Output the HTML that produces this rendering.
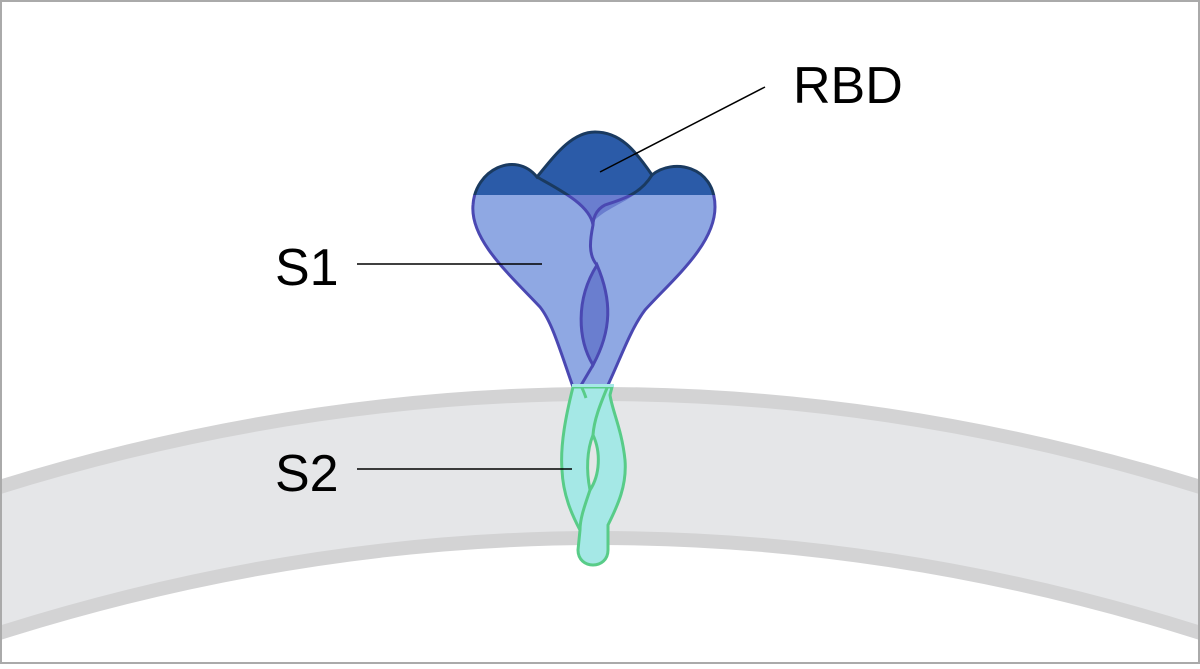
<!DOCTYPE html>
<html><head><style>html,body{margin:0;padding:0;background:#fff}</style></head><body>
<svg width="1200" height="664" viewBox="0 0 1200 664" xmlns="http://www.w3.org/2000/svg">
<rect x="0" y="0" width="1200" height="664" fill="#fff"/>
<defs>
<clipPath id="top"><rect x="0" y="0" width="1200" height="195"/></clipPath>
<clipPath id="bot"><rect x="0" y="195" width="1200" height="192"/></clipPath>
</defs>
<path d="M-10,490 Q600,298 1210,490 L1210,636 Q600,440 -10,636 Z" fill="#e5e6e8"/>
<path d="M-10,490 Q600,298 1210,490" fill="none" stroke="#d3d3d4" stroke-width="14"/>
<path d="M-10,636 Q600,440 1210,636" fill="none" stroke="#d3d3d4" stroke-width="14"/>
<g>
<path d="M573,387 C560,350 552,322 540,307 C510,275 470,240 473,205 C475,170 515,150 537,177 C555,155 572,132 595,132 C620,132 635,150 652,175 C672,158 715,165 715,207 C715,245 672,280 645,310 C630,330 620,360 607,387 Z" fill="#8fa8e3"/>
<path d="M573,387 C560,350 552,322 540,307 C510,275 470,240 473,205 C475,170 515,150 537,177 C555,155 572,132 595,132 C620,132 635,150 652,175 C672,158 715,165 715,207 C715,245 672,280 645,310 C630,330 620,360 607,387 Z" fill="#2b5ba8" clip-path="url(#top)"/>
<path d="M537,177 C560,190 585,200 593,222 C608,205 640,200 652,175 Z" fill="#6a7ecf" clip-path="url(#bot)"/>
<path d="M597,265 C575,300 578,340 593,365 C612,330 612,300 597,265 Z" fill="#6a7ecf" stroke="#4a48b2" stroke-width="3"/>
<g fill="none" stroke-width="3">
<path d="M537,177 C560,190 590,205 593,225 C590,240 588,255 597,265" stroke="#4a48b2" clip-path="url(#bot)"/>
<path d="M652,175 C640,195 620,200 605,205 C595,210 593,220 593,225" stroke="#4a48b2" clip-path="url(#bot)"/>
<path d="M537,177 C560,190 590,205 593,225" stroke="#1a3a60" clip-path="url(#top)"/>
<path d="M652,175 C640,195 620,200 605,205" stroke="#1a3a60" clip-path="url(#top)"/>
<path d="M593,365 L580,387" stroke="#4a48b2"/>
<path d="M573,387 C560,350 552,322 540,307 C510,275 470,240 473,205 C475,170 515,150 537,177 C555,155 572,132 595,132 C620,132 635,150 652,175 C672,158 715,165 715,207 C715,245 672,280 645,310 C630,330 620,360 607,387" stroke="#4a48b2" clip-path="url(#bot)"/>
<path d="M573,387 C560,350 552,322 540,307 C510,275 470,240 473,205 C475,170 515,150 537,177 C555,155 572,132 595,132 C620,132 635,150 652,175 C672,158 715,165 715,207 C715,245 672,280 645,310 C630,330 620,360 607,387" stroke="#1a3a60" clip-path="url(#top)"/>
</g>
</g>
<!-- S2 stalk -->
<path d="M573,387 C566,415 560,445 562,470 C563,495 572,515 580,530 L578,550 C578,570 608,570 608,550 L608,525 C618,505 627,485 625,460 C622,430 612,410 610,395 L612,387 Z" fill="#a5e8e6" stroke="#58cc88" stroke-width="3"/>
<rect x="572" y="384" width="42" height="3" fill="#a5e8e6"/>
<path d="M593,435 C601,452 600,475 590,490 C586,470 587,450 593,435 Z" fill="#e5e6e8" stroke="#58cc88" stroke-width="3"/>
<g fill="none" stroke="#58cc88" stroke-width="3">
<path d="M607,388 C600,405 594,420 593,435"/>
<path d="M590,490 C585,505 580,518 580,530"/>
<path d="M582,388 C584,392 585,395 586,398"/>
</g>
<g stroke="#000" stroke-width="1.5">
<line x1="765" y1="87" x2="600" y2="172"/>
<line x1="357" y1="264" x2="542" y2="264"/>
<line x1="357" y1="469" x2="572" y2="469"/>
</g>
<g font-family="'Liberation Sans',sans-serif" font-size="52" fill="#000">
<text x="793" y="103">RBD</text>
<text x="275" y="285">S1</text>
<text x="275" y="491">S2</text>
</g>
<rect x="1" y="1" width="1198" height="662" fill="none" stroke="#aaa" stroke-width="2"/>
</svg>
</body></html>
